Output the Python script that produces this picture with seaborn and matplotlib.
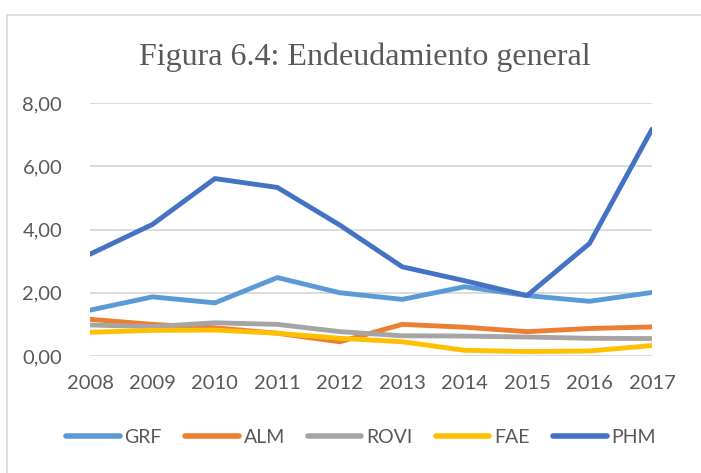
import pandas as pd
import numpy as np
import matplotlib.pyplot as plt
import seaborn as sns
from matplotlib.patches import Rectangle
from matplotlib.ticker import FuncFormatter

years = [2008, 2009, 2010, 2011, 2012, 2013, 2014, 2015, 2016, 2017]
grf = [1.45, 1.87, 1.68, 2.48, 2.00, 1.79, 2.19, 1.91, 1.73, 2.01]
alm = [1.16, 1.00, 0.89, 0.72, 0.45, 1.00, 0.91, 0.77, 0.87, 0.92]
rovi = [0.98, 0.93, 1.05, 1.00, 0.77, 0.64, 0.63, 0.60, 0.56, 0.55]
fae = [0.75, 0.81, 0.82, 0.72, 0.56, 0.45, 0.18, 0.14, 0.16, 0.33]
phm = [3.22, 4.16, 5.61, 5.33, 4.14, 2.82, 2.38, 1.91, 3.56, 7.17]

series = ['GRF', 'ALM', 'ROVI', 'FAE', 'PHM']
colors = ['#5B9BD5', '#ED7D31', '#A5A5A5', '#FFC000', '#4472C4']

df = pd.DataFrame({'year': years * 5,
                   'value': grf + alm + rovi + fae + phm,
                   'serie': [s for s in series for _ in years]})

sns.set_style('white')
plt.rcParams['font.family'] = ['Lato', 'DejaVu Sans']
txt = '#595959'

fig = plt.figure(figsize=(7.01, 4.73), dpi=100)
ax = fig.add_axes([90 / 701, 1 - 356 / 473, (652 - 90) / 701, (356 - 103) / 473])

sns.lineplot(data=df, x='year', y='value', hue='serie', palette=colors,
             hue_order=series, linewidth=3.5, ax=ax, legend=False,
             solid_capstyle='round')

ax.set_xlim(2008, 2017)
ax.set_ylim(0, 8)
ax.set_yticks([0, 2, 4, 6, 8])
ax.set_xticks(years)
ax.yaxis.set_major_formatter(FuncFormatter(lambda v, p: f'{v:.2f}'.replace('.', ',')))
ax.grid(axis='y', color='#D9D9D9', linewidth=1.3)
ax.set_axisbelow(True)
for s in ax.spines.values():
    s.set_visible(False)
ax.tick_params(length=0, labelsize=14.5, labelcolor=txt)
ax.tick_params(axis='y', pad=20)
ax.tick_params(axis='x', pad=14)
ax.set_xlabel('')
ax.set_ylabel('')

fig.text(365 / 701, 1 - 57 / 473, 'Figura 6.4: Endeudamiento general', ha='center', va='center',
         fontsize=23, color=txt, family='Liberation Serif')

handles = [plt.Line2D([], [], color=c, linewidth=4, solid_capstyle='round') for c in colors]
fig.legend(handles, series, loc='center', bbox_to_anchor=(361 / 701, 1 - 437 / 473), ncol=5,
           frameon=False, fontsize=14, labelcolor=txt, handlelength=2.75,
           handletextpad=0.25, columnspacing=1.2)

fig.patches.append(Rectangle((7 / 701, -0.1), 1.0, 1 - 15 / 473 + 0.1, transform=fig.transFigure,
                             fill=False, edgecolor='#D9D9D9', linewidth=1.2))

fig.savefig('out.png', dpi=100)
